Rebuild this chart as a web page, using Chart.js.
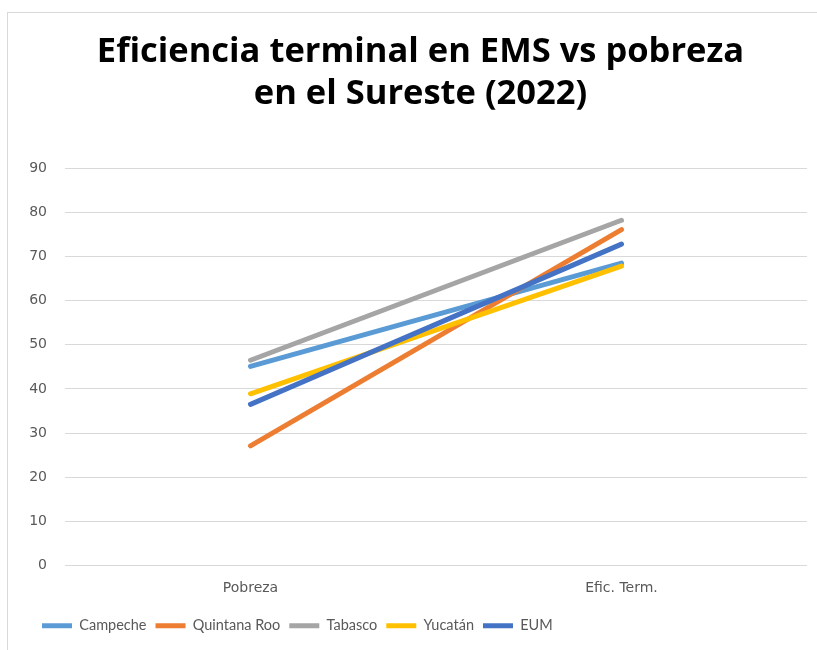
<!DOCTYPE html>
<html>
<head>
<meta charset="utf-8">
<script src="https://cdn.jsdelivr.net/npm/chart.js@4.4.1/dist/chart.umd.min.js"></script>
<style>
  body { margin: 0; background: #fff; }
  #frame { position: absolute; left: 7px; top: 12px; width: 830px; height: 660px;
           border-left: 1px solid #d9d9d9; border-top: 1px solid #d9d9d9; }
  #myChart { position: absolute; left: 0; top: 0; }
</style>
</head>
<body>
<div id="frame"></div>
<canvas id="myChart" width="817" height="650"></canvas>
<script>
const canvasArea = document.getElementById("myChart").getContext("2d");

const labels = ["Pobreza", "Efic. Term."];
const campeche = [45.1, 68.5];
const quintanaRoo = [27.1, 76.1];
const tabasco = [46.5, 78.2];
const yucatan = [38.9, 67.8];
const eum = [36.5, 72.8];

function serie(label, values, color, order) {
  return {
    label,
    data: values,
    borderColor: color,
    backgroundColor: color,
    borderWidth: 5,
    borderCapStyle: "round",
    pointRadius: 0,
    pointHoverRadius: 0,
    pointStyle: "line",
    tension: 0,
    order,
  };
}

const data = {
  labels,
  datasets: [
    serie("Campeche", campeche, "#5B9BD5", 5),
    serie("Quintana Roo", quintanaRoo, "#ED7D31", 4),
    serie("Tabasco", tabasco, "#A5A5A5", 3),
    serie("Yucatán", yucatan, "#FFC000", 2),
    serie("EUM", eum, "#4472C4", 1),
  ],
};

const tickFont = { family: "'DejaVu Sans'", size: 14 };

// the original frame is wider than the picture: title and legend sit off-centre
const shiftBlocks = {
  id: "shiftBlocks",
  afterLayout(chart) {
    chart.titleBlock.left += 13;
    chart.titleBlock.right += 13;
    chart.legend.left += 25;
    chart.legend.right += 25;
  },
};

const config = {
  type: "line",
  data: data,
  options: {
    responsive: false,
    animation: false,
    layout: { padding: { left: 8, right: 10, top: 0, bottom: 7 } },
    plugins: {
      title: {
        display: true,
        text: ["Eficiencia terminal en EMS vs pobreza", "en el Sureste (2022)"],
        color: "#000",
        font: { family: "'Open Sans'", size: 34.5, weight: "bold", lineHeight: 1.22 },
        padding: { top: 31, bottom: 53 },
      },
      legend: {
        position: "bottom",
        align: "start",
        labels: {
          usePointStyle: true,
          pointStyleWidth: 30,
          color: "#595959",
          font: { family: "'Lato'", size: 14.5 },
          padding: 9,
          sort: (a, b) => a.datasetIndex - b.datasetIndex,
        },
      },
      tooltip: { enabled: false },
    },
    scales: {
      x: {
        offset: true,
        grid: { display: false, drawTicks: false },
        border: { display: false },
        ticks: { color: "#595959", font: tickFont, padding: 14 },
        afterFit: (scale) => { scale.height = 44; },
      },
      y: {
        min: 0,
        max: 90,
        ticks: { stepSize: 10, color: "#595959", font: tickFont, padding: 18 },
        grid: { color: "#d9d9d9", drawTicks: false },
        border: { display: false },
        afterFit: (scale) => { scale.width = 57; },
      },
    },
  },
  plugins: [shiftBlocks],
};
const myChartOne = new Chart(canvasArea, config);
</script>
</body>
</html>
